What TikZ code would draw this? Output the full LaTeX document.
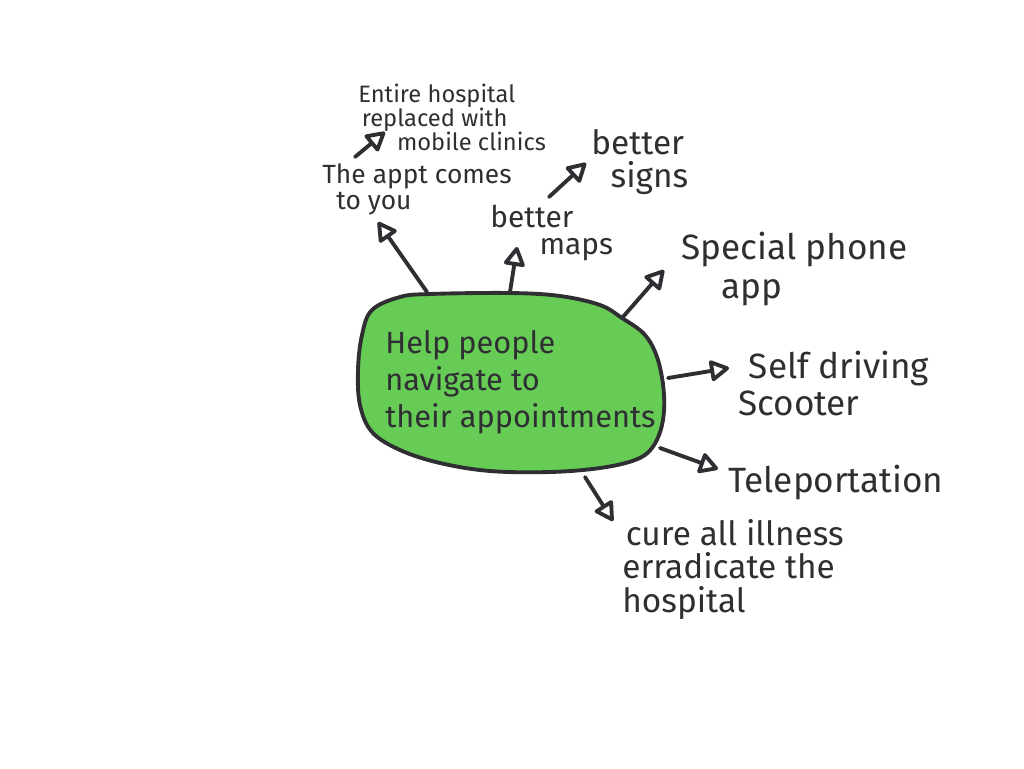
\documentclass[tikz,border=0pt]{standalone}
\usepackage{fontspec}
\setmainfont{Fira Sans}
\usetikzlibrary{arrows.meta}
\definecolor{ink}{HTML}{2F2F33}
\definecolor{blobgreen}{HTML}{66CC55}

\begin{document}
\begin{tikzpicture}[x=0.02cm, y=-0.02cm,
    idea/.style={anchor=north west, inner sep=0pt, align=left, text=ink},
    link/.style={draw=ink, line width=2.2pt, line cap=round,
      -{Triangle[open, round, length=12pt, width=13pt]}}]
  \useasboundingbox (0,0) rectangle (1024,768);
  % central goal blob
  \draw[ink, line width=2.2pt, line join=round, fill=blobgreen]
    plot[smooth cycle, tension=0.6] coordinates {(372,310) (400,297) (430,294) (510,293)
      (560,296) (600,305) (622,318) (645,335) (658,360) (664,395) (662,425) (652,448)
      (635,460) (600,468) (550,472) (490,471) (440,463) (400,450) (372,432) (360,405)
      (358,370) (362,335)};
  \node[idea, font=\fontsize{17.5pt}{21pt}\selectfont] (goal) at (385,330)
    {Help people\\navigate to\\their appointments};
  % ideas round it
  \node[idea, font=\fontsize{13.5pt}{13.5pt}\selectfont] (mobile) at (358,84)
    {Entire hospital\\\hspace*{2pt}replaced with\\\hspace*{22pt}mobile clinics};
  \node[idea, font=\fontsize{15pt}{15pt}\selectfont] (appt) at (322,163)
    {The appt comes\\\hspace*{8pt}to you};
  \node[idea, font=\fontsize{19pt}{19pt}\selectfont] (signs) at (591,129)
    {better\\\hspace*{11pt}signs};
  \node[idea, font=\fontsize{17pt}{15pt}\selectfont] (maps) at (490,205)
    {better\\\hspace*{28pt}maps};
  \node[idea, font=\fontsize{20pt}{22pt}\selectfont] (phone) at (681,232)
    {Special phone\\\hspace*{23pt}app};
  \node[idea, font=\fontsize{20pt}{21pt}\selectfont] (scooter) at (738,351)
    {\hspace*{6pt}Self driving\\Scooter};
  \node[idea, font=\fontsize{20pt}{21pt}\selectfont] (tele) at (728,465)
    {Teleportation};
  \node[idea, font=\fontsize{19pt}{19pt}\selectfont] (cure) at (622,519)
    {\hspace*{2pt}cure all illness\\erradicate the\\hospital};
  % arrow ends
  \coordinate (fromappt) at (427,292);   \coordinate (toappt) at (378,222);
  \coordinate (frommaps) at (510,292);   \coordinate (tomaps) at (517,247);
  \coordinate (fromphone) at (622,318);  \coordinate (tophone) at (664,270);
  \coordinate (fromscoot) at (668,378);  \coordinate (toscoot) at (729,368);
  \coordinate (fromtele) at (660,448);   \coordinate (totele) at (718,469);
  \coordinate (fromcure) at (585,477);   \coordinate (tocure) at (613,521);
  \coordinate (frommob) at (355,157);    \coordinate (tomob) at (385,132);
  \coordinate (fromsigns) at (549,197);  \coordinate (tosigns) at (586,163);
  \draw[link] (fromappt) -- (toappt);
  \draw[link] (frommaps) -- (tomaps);
  \draw[link] (fromphone) -- (tophone);
  \draw[link] (fromscoot) -- (toscoot);
  \draw[link] (fromtele) -- (totele);
  \draw[link] (fromcure) -- (tocure);
  \draw[link] (frommob) -- (tomob);
  \draw[link] (fromsigns) -- (tosigns);
\end{tikzpicture}
\end{document}
